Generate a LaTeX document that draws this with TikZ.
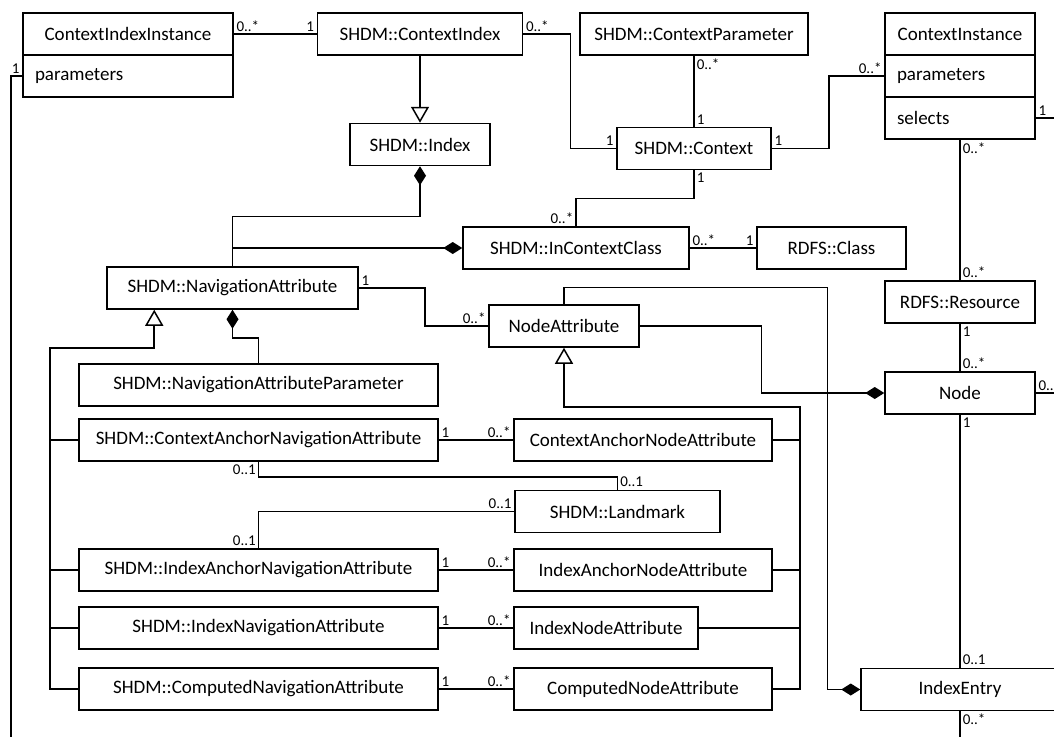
\documentclass[tikz,border=0pt]{standalone}
\usepackage{fontspec}
\setmainfont{Carlito}
\usetikzlibrary{arrows.meta}

\begin{document}
\begin{tikzpicture}[x=1pt, y=-1pt,
    cls/.style={draw, line width=1.5pt, minimum height=42pt, inner sep=0pt, font=\fontsize{19}{22}\selectfont},
    attr/.style={cls, text width=#1, align=left, inner xsep=12pt},
    mult/.style={font=\fontsize{15}{17}\selectfont, inner sep=2pt},
    assoc/.style={line width=1.5pt},
    bus/.style={line width=2.3pt},
    gen/.style={assoc, -{Triangle[open, length=16pt, width=18pt, line width=1.5pt]}},
    comp/.style={assoc, {Diamond[length=19pt, width=12pt]}-}]
    \useasboundingbox (0,0) rectangle (1054,736);
    \clip (0,0) rectangle (1054,736);

    \node[cls, minimum width=210pt] (cii) at (128,34) {ContextIndexInstance};
    \node[attr=186pt] (ciiPar) at (128,76) {parameters};
    \node[cls, minimum width=205pt] (ctxIdx) at (420,34) {SHDM::ContextIndex};
    \node[cls, minimum width=228pt] (ctxPar) at (694,34) {SHDM::ContextParameter};
    \node[cls, minimum width=150pt] (ci) at (960,34) {ContextInstance};
    \node[attr=126pt] (ciPar) at (960,76) {parameters};
    \node[attr=126pt] (ciSel) at (960,118) {selects};
    \node[cls, minimum width=140pt] (idx) at (420,144.5) {SHDM::Index};
    \node[cls, minimum width=154pt] (ctx) at (694,148.5) {SHDM::Context};
    \node[cls, minimum width=226pt] (icc) at (576,248) {SHDM::InContextClass};
    \node[cls, minimum width=149pt] (rdfsCls) at (831.5,248) {RDFS::Class};
    \node[cls, minimum width=251pt] (navAttr) at (232.5,288) {SHDM::NavigationAttribute};
    \node[cls, minimum width=150pt] (nodeAttr) at (564,326) {NodeAttribute};
    \node[cls, minimum width=150pt] (rdfsRes) at (960,302) {RDFS::Resource};
    \node[cls, minimum width=150pt] (nodeCls) at (960,393) {Node};
    \node[cls, minimum width=359pt] (navPar) at (258.5,385) {SHDM::NavigationAttributeParameter};
    \node[cls, minimum width=359pt] (canA) at (258.5,440) {SHDM::ContextAnchorNavigationAttribute};
    \node[cls, minimum width=258pt] (canNA) at (643,440) {ContextAnchorNodeAttribute};
    \node[cls, minimum width=205pt] (landmark) at (617.5,511.5) {SHDM::Landmark};
    \node[cls, minimum width=359pt] (ianA) at (258.5,570) {SHDM::IndexAnchorNavigationAttribute};
    \node[cls, minimum width=258pt] (ianNA) at (643,570) {IndexAnchorNodeAttribute};
    \node[cls, minimum width=359pt] (inA) at (258.5,628) {SHDM::IndexNavigationAttribute};
    \node[cls, minimum width=184pt] (inNA) at (606,628) {IndexNodeAttribute};
    \node[cls, minimum width=359pt] (cnA) at (258.5,689) {SHDM::ComputedNavigationAttribute};
    \node[cls, minimum width=258pt] (cnNA) at (643,689) {ComputedNodeAttribute};
    \node[cls, minimum width=198pt] (idxEntry) at (960,689.5) {IndexEntry};

    \coordinate (offL) at (11,740);
    \coordinate (offB) at (960,740);
    \coordinate (offR1) at (1060,118);
    \coordinate (offR2) at (1060,393);
    \coordinate (busNA) at (800,407);
    \coordinate (busNav) at (50,348);

    \draw[assoc] (cii.east) node[mult, above right] {0..*} -- (ctxIdx.west) node[mult, above left] {1};
    \draw[assoc] (ciiPar.west) node[mult, above left] {1} -| (offL);
    \draw[gen] (ctxIdx.south) -- (idx.north);
    \draw[assoc] (ctxIdx.east) node[mult, above right] {0..*} -- ++(47,0) |- (ctx.west) node[mult, above left] {1};
    \draw[assoc] (ctxPar.south) node[mult, below right] {0..*} -- (ctx.north) node[mult, above right] {1};
    \draw[assoc] (ctx.east) node[mult, above right] {1} -- ++(57,0) |- (ciPar.west) node[mult, above left] {0..*};
    \draw[assoc] (ctx.south) node[mult, below right] {1} -- ++(0,28) -| (icc.north) node[mult, above left] {0..*};
    \draw[comp] (idx.south) -- ++(0,50) -| (navAttr.north);
    \draw[comp] (icc.west) -| (navAttr.north);
    \draw[assoc] (icc.east) node[mult, above right] {0..*} -- (rdfsCls.west) node[mult, above left] {1};
    \draw[assoc] (ciSel.south) node[mult, below right] {0..*} -- (rdfsRes.north) node[mult, above right] {0..*};
    \draw[assoc] (ciSel.east) node[mult, above right] {1} -- (offR1);
    \draw[assoc] (rdfsRes.south) node[mult, below right] {1} -- (nodeCls.north) node[mult, above right] {0..*};
    \draw[assoc] (nodeCls.east) node[mult, above right] {0..*} -- (offR2);
    \draw[assoc] (nodeCls.south) node[mult, below right] {1} -- (idxEntry.north) node[mult, above right] {0..1};
    \draw[assoc] (idxEntry.south) node[mult, below right] {0..*} -- (offB);
    \draw[assoc] (navAttr.east) node[mult, above right] {1} -- ++(66,0) |- (nodeAttr.west) node[mult, above left] {0..*};
    \draw[comp] (idxEntry.west) -- ++(-33,0) |- ([yshift=17pt]nodeAttr.north) -- (nodeAttr.north);
    \draw[comp] (nodeCls.west) -- ++(-123,0) |- (nodeAttr.east);
    \draw[comp] (navAttr.south) -- ++(0,28) -| (navPar.north);

    \draw[gen, bus] (cnNA.east) -| (busNA) -| (nodeAttr.south);
    \foreach \n in {canNA, ianNA, inNA}
        \draw[assoc] (\n.east) -- (\n.east -| busNA);
    \draw[gen, bus] (cnA.west) -| (busNav) -| ([xshift=48pt]navAttr.south west);
    \foreach \n in {canA, ianA, inA}
        \draw[assoc] (\n.west) -- (\n.west -| busNav);

    \foreach \a/\b in {canA/canNA, ianA/ianNA, inA/inNA, cnA/cnNA}
        \draw[assoc] (\a.east) node[mult, above right] {1} -- (\b.west) node[mult, above left] {0..*};
    \draw[assoc] (canA.south) node[mult, below left] {0..1} -- ++(0,15) -| (landmark.north) node[mult, above right] {0..1};
    \draw[assoc] (ianA.north) node[mult, above left] {0..1} |- (landmark.west) node[mult, above left] {0..1};
\end{tikzpicture}
\end{document}
